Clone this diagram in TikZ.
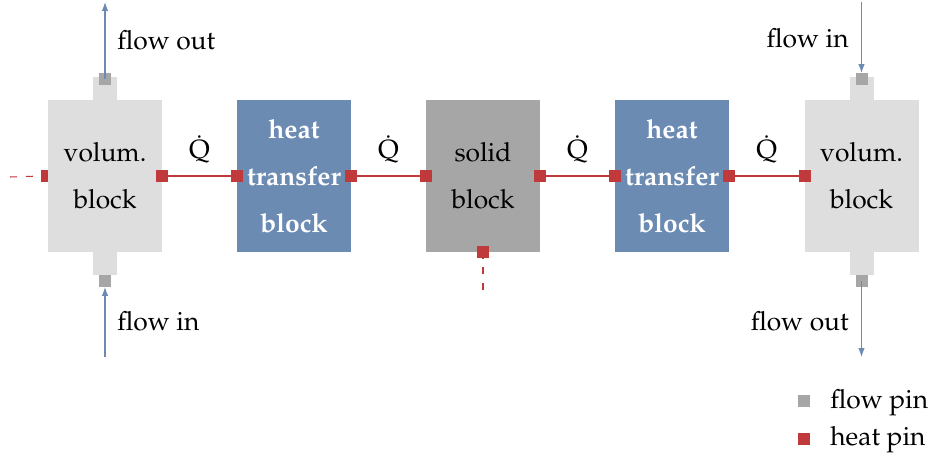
\documentclass[tikz,border=0pt]{standalone}
\usepackage[T1]{fontenc}
\usepackage{mathpazo}
\usetikzlibrary{arrows.meta,positioning}
\definecolor{volgray}{HTML}{DEDEDE}
\definecolor{pingray}{HTML}{A6A6A6}
\definecolor{htblue}{HTML}{6C8BB3}
\definecolor{heatred}{HTML}{C0393B}
\definecolor{flowblue}{HTML}{6C8BB3}
\newcommand\blockfont{\fontsize{15}{26.7}\selectfont}
\newcommand\lblfont{\fontsize{15}{18}\selectfont}

\begin{document}
\begin{tikzpicture}[
    x=0.02cm, y=-0.02cm,
    blockbox/.style={rectangle, minimum width=2.28cm, minimum height=3.04cm, inner sep=0pt, outer sep=0pt, align=center, font=\blockfont},
    volbox/.style={blockbox, fill=volgray},
    htbox/.style={blockbox, fill=htblue, text=white, font=\blockfont\bfseries},
    solidbox/.style={blockbox, fill=pingray},
    ext/.style={rectangle, fill=volgray, minimum width=0.48cm, minimum height=0.46cm, inner sep=0pt, outer sep=0pt},
    heatpin/.style={rectangle, fill=heatred, minimum size=0.24cm, inner sep=0pt, outer sep=0pt},
    flowpin/.style={rectangle, fill=pingray, minimum size=0.24cm, inner sep=0pt, outer sep=0pt},
    heatline/.style={heatred, line width=0.6pt},
    opendash/.style={heatline, dash pattern=on 0.14cm off 0.18cm},
    flowarrow/.style={-{Latex[length=1.8mm,width=1.3mm]}, flowblue, line width=0.6pt},
    lbl/.style={font=\lblfont, inner sep=0pt, text=black},
]
\useasboundingbox (0,0) rectangle (935,459);

% Blocks
\node[volbox] (vol1) at (105,176) {volum.\\block};
\node[htbox] (ht1) at (294,176) {heat\\transfer\\block};
\node[solidbox] (solid) at (483,176) {solid\\block};
\node[htbox] (ht2) at (672,176) {heat\\transfer\\block};
\node[volbox] (vol2) at (861.5,176) {volum.\\block};

% Flow ports of the volume blocks
\node[ext, above=0pt of vol1] (v1top) {};
\node[ext, below=0pt of vol1] (v1bot) {};
\node[ext, above=0pt of vol2] (v2top) {};
\node[ext, below=0pt of vol2] (v2bot) {};
\node[flowpin, yshift=-0.04cm] (v1out) at (v1top.north) {};
\node[flowpin, yshift=-0.12cm] (v1in) at (v1bot.south) {};
\node[flowpin, yshift=-0.04cm] (v2in) at (v2top.north) {};
\node[flowpin, yshift=-0.12cm] (v2out) at (v2bot.south) {};

% Heat pins
\node[heatpin, minimum width=0.14cm, anchor=east] (v1w) at (vol1.west) {};
\node[heatpin] (v1e) at (vol1.east) {};
\node[heatpin] (h1w) at (ht1.west) {};
\node[heatpin] (h1e) at (ht1.east) {};
\node[heatpin] (sw) at (solid.west) {};
\node[heatpin] (se) at (solid.east) {};
\node[heatpin] (ss) at (solid.south) {};
\node[heatpin] (h2w) at (ht2.west) {};
\node[heatpin] (h2e) at (ht2.east) {};
\node[heatpin] (v2w) at (vol2.west) {};

% Heat connections
\draw[heatline] (v1e) -- node[lbl, above=0.24cm] {\.Q} (h1w);
\draw[heatline] (h1e) -- node[lbl, above=0.24cm] {\.Q} (sw);
\draw[heatline] (se) -- node[lbl, above=0.24cm] {\.Q} (h2w);
\draw[heatline] (h2e) -- node[lbl, above=0.24cm] {\.Q} (v2w);

% Open heat ends
\coordinate (leftopen) at (10,177);
\coordinate (solidopen) at (483,290);
\draw[opendash] (leftopen) -- (v1w.west);
\draw[opendash] (solidopen) -- (ss.south);

% Flow arrows
\coordinate (v1outend) at (105,2);
\coordinate (v1instart) at (105,357);
\coordinate (v2instart) at (861.5,2);
\coordinate (v2outend) at (861.5,357);
\draw[flowarrow] (v1out.center) -- (v1outend);
\draw[flowarrow] (v1instart) -- (v1in.south);
\draw[flowarrow] (v2instart) -- (v2in.north);
\draw[flowarrow] (v2out.center) -- (v2outend);

\node[lbl, anchor=base west] (lout1) at (117,50) {flow out};
\node[lbl, anchor=base west] (lin1) at (117,330) {flow in};
\node[lbl, anchor=base east] (lin2) at (849,48) {flow in};
\node[lbl, anchor=base east] (lout2) at (849,330) {flow out};

% Legend
\node[flowpin] (keyflow) at (804,401) {};
\node[heatpin] (keyheat) at (804,439) {};
\node[lbl, anchor=base west] (keyflowtxt) at (830,408) {flow pin};
\node[lbl, anchor=base west] (keyheattxt) at (830,445) {heat pin};

\end{tikzpicture}
\end{document}
